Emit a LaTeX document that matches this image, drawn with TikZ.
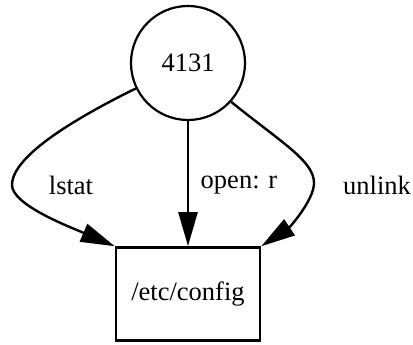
\documentclass[tikz,border=0pt]{standalone}
\usepackage{fontspec}
\setmainfont{Liberation Serif}
\usetikzlibrary{arrows.meta,positioning}

\begin{document}
\begin{tikzpicture}[x=1pt,y=1pt,>={Triangle[length=34pt,width=19pt]},
	font=\fontsize{26.5}{31}\selectfont,
	proc/.style={draw,circle,line width=2.2pt,minimum size=114pt,inner sep=0pt},
	file/.style={draw,rectangle,line width=2.6pt,minimum width=144pt,minimum height=93pt},
	edge/.style={line width=2.4pt,->}]
	
	\useasboundingbox (0,0) rectangle (413,345);
	
	% Draw the process and the file
	\node[proc] (pid) at (188,282) {4131};
	\node[file] (cfg) at (188,51) {/etc/config};
	
	% Bend points of the outer edges
	\coordinate (lstatbend) at (12,160);
	\coordinate (unlinkbend) at (314,162);
	
	% Draw the calls
	\draw[edge] (pid.206) .. controls (80,229) and (12,190) .. (lstatbend)
		.. controls (12,140) and (70,118) .. (cfg.north west);
	\draw[edge] (pid) -- (cfg);
	\draw[edge] (pid.318) .. controls (282,202) and (314,184) .. (unlinkbend)
		.. controls (314,145) and (290,118) .. (cfg.north east);
	
	% Draw the labels
	\node (lstatlbl) at (71,160) {lstat};
	\node (openlbl) at (239,160) {open: r};
	\node (unlinklbl) at (377,160) {unlink};
\end{tikzpicture}
\end{document}
